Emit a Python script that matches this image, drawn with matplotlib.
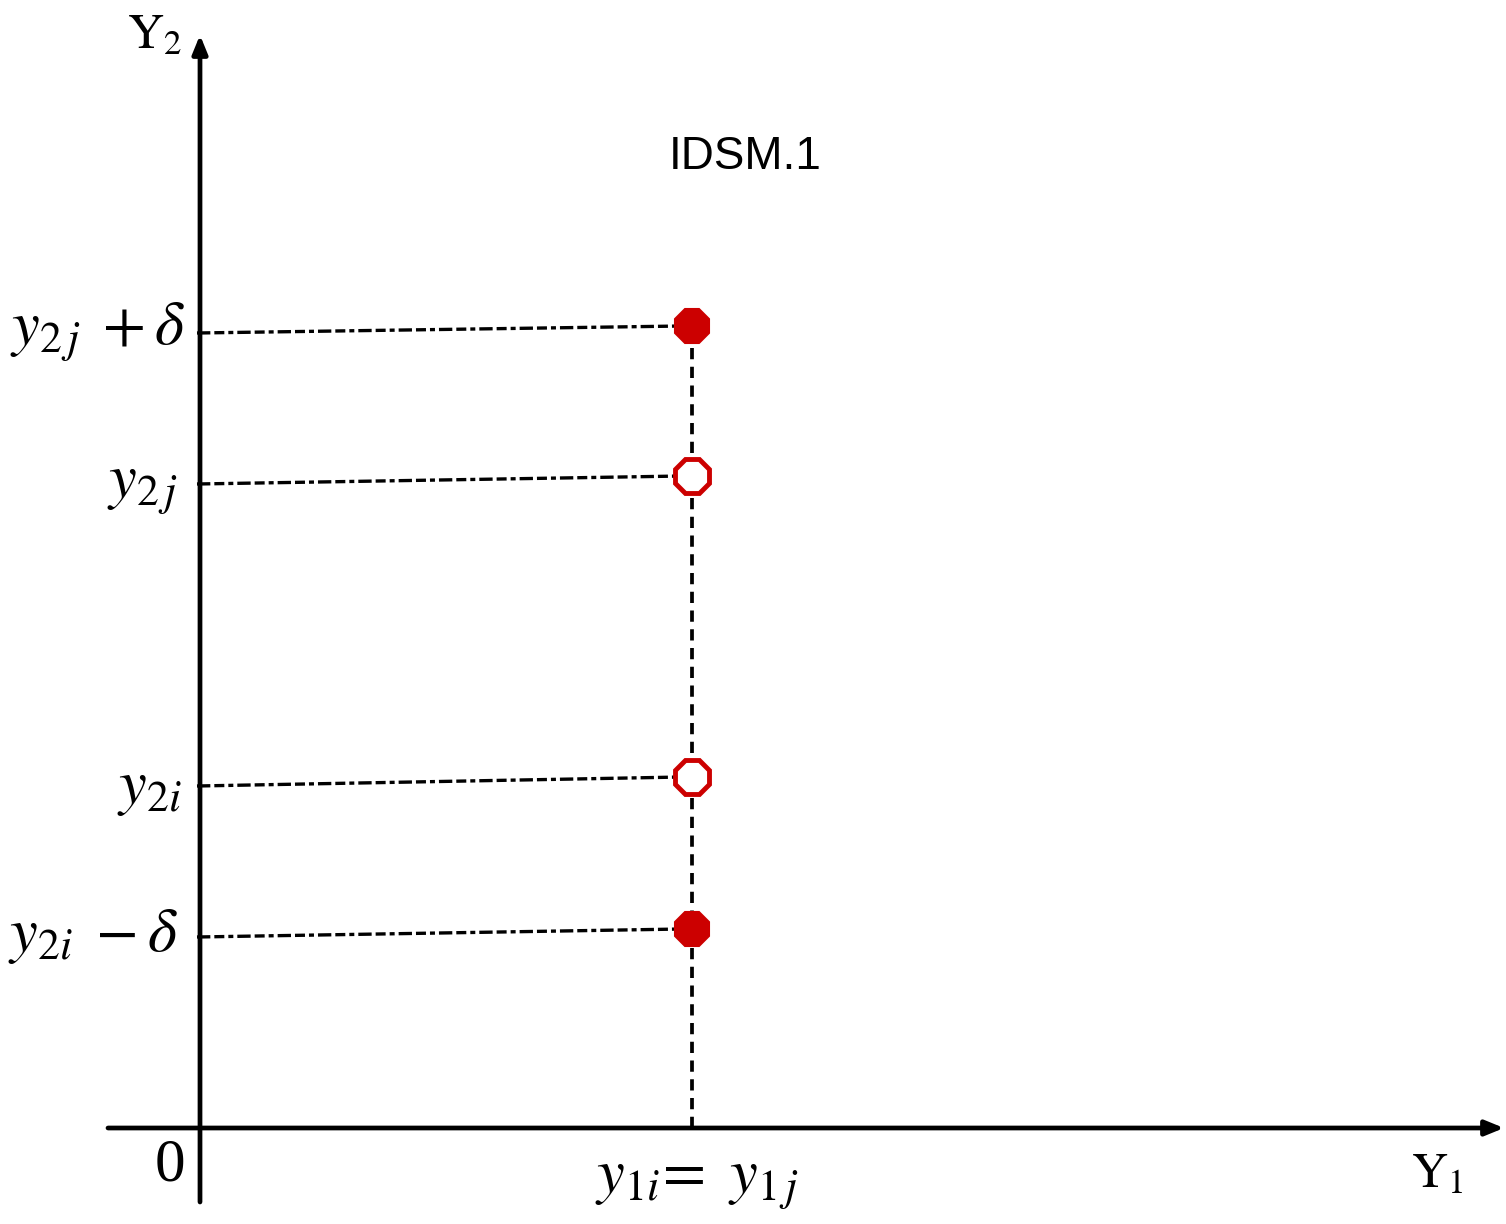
import matplotlib
matplotlib.use("Agg")
import matplotlib.pyplot as plt

plt.rcParams['mathtext.fontset'] = 'stix'
plt.rcParams['font.family'] = ['Liberation Serif', 'DejaVu Serif']

# Data (origin at axes crossing, units ~ pixels)
point_x = 492
level_names = [r"$y_{2\,j}\;+\delta$", r"$y_{2\,j}$", r"$y_{2i}$", r"$y_{2i}\;-\delta$"]
level_values = [802, 652, 351, 199]
level_left_drop = [7, 8, 9, 8]         # slight tilt of the guide lines
filled = [True, False, False, True]
x_label = r"$y_{1i}\!=\ y_{1\,j}$"
title = "IDSM.1"

fig = plt.figure(figsize=(15.06, 12.24), dpi=100)
ax = fig.add_axes([0, 0, 1, 1])
ax.set_xlim(-200, 1306)
ax.set_ylim(-96, 1128)
ax.axis('off')

red = '#CC0000'

# axes arrows
ax.annotate('', xy=(1304, 0), xytext=(-92, 0),
            arrowprops=dict(arrowstyle='-|>,head_length=1.1,head_width=0.45', lw=3.4, color='black',
                            shrinkA=0, shrinkB=0))
ax.annotate('', xy=(0, 1093), xytext=(0, -74),
            arrowprops=dict(arrowstyle='-|>,head_length=1.1,head_width=0.45', lw=3.4, color='black',
                            shrinkA=0, shrinkB=0))

# vertical dashed guide
ax.plot([point_x, point_x], [0, max(level_values)], ls=(0, (3, 2.0)), color='black', lw=2.7, zorder=2)

# horizontal guides, labels and markers
offsets = [(-15, -6), (-22, -12), (-18, -12), (-22, -8)]
for name, v, d, f, off in zip(level_names, level_values, level_left_drop, filled, offsets):
    ax.plot([-3, point_x - 10], [v - d, v], ls=(0, (4, 1.2, 3, 1.2, 1.5, 1.2)), color='black',
            lw=2.4, zorder=2)
    ax.plot([point_x], [v], marker='8', ms=26,
            mfc=red if f else 'white', mec=red, mew=3.5 if not f else 1.5, zorder=3)
    ax.text(off[0], v + off[1], name, fontsize=45, ha='right', va='center')

ax.text(point_x + 5, -55, x_label, fontsize=45, ha='center', va='center')
ax.text(-30, -38, "0", fontsize=44, ha='center', va='center')
ax.text(1237, -47, r"$\mathrm{Y}_1$", fontsize=36, ha='center', va='center')
ax.text(-45, 1092, r"$\mathrm{Y}_2$", fontsize=36, ha='center', va='center')
ax.text(545, 971, title, fontsize=33, ha='center', va='center', family='Liberation Sans')

fig.savefig('out.png', dpi=100)
